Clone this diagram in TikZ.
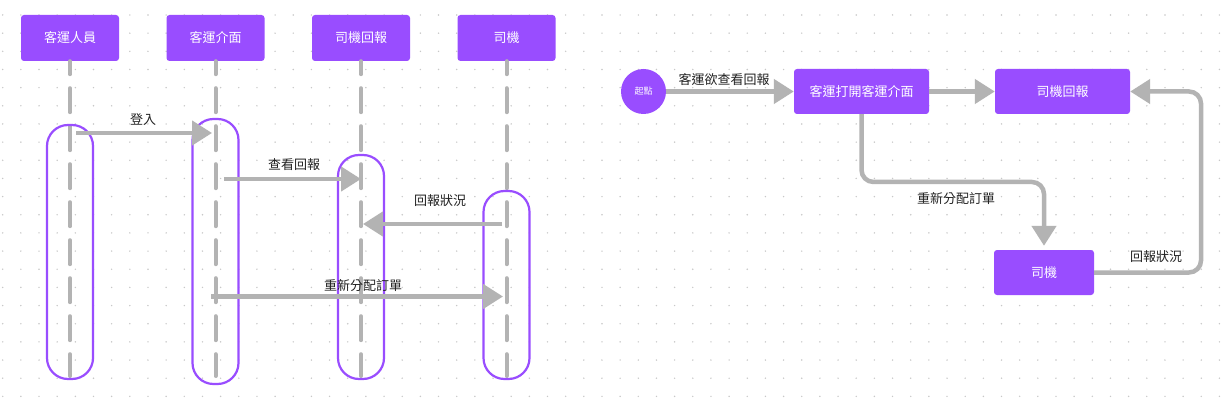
\documentclass[tikz,border=0pt]{standalone}
\usepackage{fontspec}
\setmainfont{Noto Sans CJK TC}
\usetikzlibrary{arrows.meta,calc}
\definecolor{purp}{HTML}{994DFF}
\definecolor{lgray}{HTML}{B3B3B3}
\definecolor{dotc}{HTML}{C8C8C8}
\definecolor{txt}{HTML}{222222}
\begin{document}
\begin{tikzpicture}[x=1pt,y=-1pt,
 head/.style={fill=purp, rounded corners=3pt, minimum width=98pt, minimum height=46pt, text=white, font=\fontsize{13}{15}\selectfont, inner sep=0pt},
 box/.style={fill=purp, rounded corners=3pt, minimum width=135pt, minimum height=45pt, text=white, font=\fontsize{13}{15}\selectfont, inner sep=0pt},
 life/.style={draw=lgray, line width=4pt, line cap=round, dash pattern=on 24pt off 14pt, dash phase=11pt},
 act/.style={draw=purp, line width=2.2pt, rounded corners=21pt},
 msg/.style={draw=lgray, line width=4.5pt, -{Triangle[length=20pt,width=24pt]}},
 lbl/.style={text=txt, font=\fontsize{13}{15}\selectfont, inner sep=0pt},
]
\useasboundingbox (0,0) rectangle (1231,406);
\fill[white] (0,0) rectangle (1231,406);
\foreach \i in {0,...,67} \foreach \j in {0,...,21} \fill[dotc] (2.7+18.16*\i, 15+18.16*\j) circle (0.8pt);

% headers
\node[head] (h1) at (70,38) {客運人員};
\node[head] (h2) at (215.5,38) {客運介面};
\node[head] (h3) at (361,38) {司機回報};
\node[head] (h4) at (506.5,38) {司機};

% lifelines
\coordinate (e1) at (70,376);
\coordinate (e2) at (215.5,376);
\coordinate (e3) at (361,376);
\coordinate (e4) at (506.5,376);
\draw[life] (h1.south) -- (e1);
\draw[life] (h2.south) -- (e2);
\draw[life] (h3.south) -- (e3);
\draw[life] (h4.south) -- (e4);

% activation bars
\draw[act] (47,125) rectangle (93,379);
\draw[act] (192.5,119) rectangle (238.5,384);
\draw[act] (338,155) rectangle (384,379);
\draw[act] (483.5,191) rectangle (529.5,379);

% messages
\coordinate (m1s) at (76,133);  \coordinate (m1e) at (212,133);
\coordinate (m2s) at (224,179); \coordinate (m2e) at (361,179);
\coordinate (m3s) at (502,224); \coordinate (m3e) at (363,224);
\coordinate (m4s) at (211,296.5); \coordinate (m4e) at (503,296.5);
\draw[msg] (m1s) -- (m1e);
\draw[msg] (m2s) -- (m2e);
\draw[msg] (m3s) -- (m3e);
\draw[msg] (m4s) -- (m4e);
\node[lbl] (l1) at (143,120) {登入};
\node[lbl] (l2) at (294,165) {查看回報};
\node[lbl] (l3) at (440,201) {回報狀況};
\node[lbl] (l4) at (363,286) {重新分配訂單};

% right flowchart
\node[circle, fill=purp, minimum size=45pt, inner sep=0pt, text=white, font=\fontsize{9}{10}\selectfont] (st) at (643.5,91.5) {起點};
\node[box] (b1) at (861.5,91.5) {客運打開客運介面};
\node[box] (b2) at (1062.5,91.5) {司機回報};
\node[box, minimum width=100pt] (b3) at (1044,272.5) {司機};
\coordinate (c1) at (1044,182);
\coordinate (c2) at (1201,272.5);
\draw[msg] (st.east) -- (b1.west);
\draw[msg] (b1.east) -- (b2.west);
\draw[msg, rounded corners=12pt, shorten >=4pt] (b1.south) |- (c1) -- (b3.north);
\draw[msg, rounded corners=12pt] (b3.east) -- (c2) |- (b2.east);
\node[lbl] (r1) at (724,80) {客運欲查看回報};
\node[lbl] (r2) at (956,199) {重新分配訂單};
\node[lbl] (r3) at (1156,257) {回報狀況};
\end{tikzpicture}
\end{document}
